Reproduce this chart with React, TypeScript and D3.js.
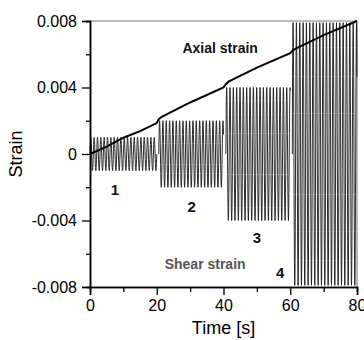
import React, { useEffect, useRef } from 'react';
import * as d3 from 'd3';

// loading stages of the shear strain (1 Hz cycling)
const stageNames = ['1', '2', '3', '4'];
const stageStart = [0, 20.6, 40.7, 60.6];
const stageEnd = [20, 40, 60, 80];
const stageAmp = [0.001, 0.002, 0.004, 0.0079];
const cycleHz = 1;

// axial strain
const axialTime = [0, 5, 10, 15, 20, 20.6, 21.5, 30, 40, 40.7, 41.5, 50, 60, 60.6, 61.5, 70, 80];
const axialStrain = [0, 0.00044, 0.00098, 0.00138, 0.00186, 0.0021, 0.00224, 0.0031, 0.0040, 0.0042, 0.00435, 0.0052, 0.00606, 0.0062, 0.00632, 0.00715, 0.008];

const yTicks = [-0.008, -0.004, 0, 0.004, 0.008];
const yMinor = [-0.006, -0.002, 0.002, 0.006];
const xTicks = [0, 20, 40, 60, 80];
const xMinor = [10, 30, 50, 70];

// label anchors in data units
const numLabelX = [7.5, 30.5, 50, 57];
const numLabelY = [-0.00245, -0.00350, -0.00535, -0.00745];

const font = 'Liberation Sans, Arial, sans-serif';

const App = () => {
  const svgRef = useRef<SVGSVGElement>(null);
  const width = 364;
  const height = 340;

  useEffect(() => {
    const margin = { top: 21, right: 7, bottom: 53, left: 90 };
    const innerWidth = width - margin.left - margin.right;
    const innerHeight = height - margin.top - margin.bottom;

    d3.select(svgRef.current).selectAll('*').remove();

    const x = d3.scaleLinear().domain([0, 80]).range([0, innerWidth]);
    const y = d3.scaleLinear().domain([-0.008, 0.008]).range([innerHeight, 0]);

    const svg = d3.select(svgRef.current)
      .attr('width', width)
      .attr('height', height)
      .append('g')
      .attr('transform', `translate(${margin.left},${margin.top})`);

    // frame (top/right)
    svg.append('path')
      .attr('d', `M0,0H${innerWidth}V${innerHeight}`)
      .attr('fill', 'none')
      .attr('stroke', '#777')
      .attr('stroke-width', 1);

    // shear strain waves
    const wave: [number, number][][] = stageAmp.map((amp, i) => {
      const pts: [number, number][] = [];
      for (let t = stageStart[i]; t <= stageEnd[i] + 1e-9; t += 0.05) {
        pts.push([t, amp * Math.sin(2 * Math.PI * cycleHz * (t - stageStart[i]))]);
      }
      return pts;
    });
    const line = d3.line<[number, number]>().x(d => x(d[0])).y(d => y(d[1]));
    svg.selectAll('.wave')
      .data(wave)
      .enter()
      .append('path')
      .attr('class', 'wave')
      .attr('d', d => line(d))
      .attr('fill', 'none')
      .attr('stroke', '#222')
      .attr('stroke-width', 0.95);

    // axial strain
    svg.append('path')
      .attr('d', line(axialTime.map((t, i) => [t, axialStrain[i]] as [number, number])))
      .attr('fill', 'none')
      .attr('stroke', '#000')
      .attr('stroke-width', 2);

    // axes
    const xAxis = svg.append('g').attr('transform', `translate(0,${innerHeight})`);
    xAxis.call(d3.axisBottom(x).tickValues(xMinor).tickSize(5).tickFormat(() => ''));
    xAxis.append('g')
      .call(d3.axisBottom(x).tickValues(xTicks).tickSize(8).tickPadding(5).tickFormat(d3.format('d')));
    const yAxis = svg.append('g');
    yAxis.call(d3.axisLeft(y).tickValues(yMinor).tickSize(4).tickFormat(() => ''));
    yAxis.append('g').call(d3.axisLeft(y).tickValues(yTicks).tickSize(8).tickPadding(5)
      .tickFormat(d => (d === 0 ? '0' : (d as number).toFixed(3))));

    svg.selectAll('.domain').attr('stroke', '#000').attr('stroke-width', 1.5);
    svg.selectAll('.tick line').attr('stroke', '#000').attr('stroke-width', 1.3);
    svg.selectAll('.tick text')
      .attr('font-family', font)
      .attr('font-size', 16)
      .attr('fill', '#000');

    // titles
    svg.append('text')
      .attr('x', innerWidth / 2)
      .attr('y', innerHeight + 47)
      .attr('text-anchor', 'middle')
      .attr('font-family', font)
      .attr('font-size', 18)
      .text('Time [s]');

    svg.append('text')
      .attr('transform', `translate(${-margin.left + 22},${innerHeight / 2}) rotate(-90)`)
      .attr('text-anchor', 'middle')
      .attr('font-family', font)
      .attr('font-size', 18)
      .text('Strain');

    // annotations
    svg.append('text')
      .attr('x', x(39))
      .attr('y', y(0.0061))
      .attr('text-anchor', 'middle')
      .attr('font-family', font)
      .attr('font-weight', 'bold')
      .attr('font-size', 14)
      .attr('fill', '#111')
      .text('Axial strain');

    svg.append('text')
      .attr('x', x(34.5))
      .attr('y', y(-0.0069))
      .attr('text-anchor', 'middle')
      .attr('font-family', font)
      .attr('font-weight', 'bold')
      .attr('font-size', 14)
      .attr('fill', '#555')
      .text('Shear strain');

    svg.selectAll('.num')
      .data(stageNames)
      .enter()
      .append('text')
      .attr('class', 'num')
      .attr('x', (_, i) => x(numLabelX[i]))
      .attr('y', (_, i) => y(numLabelY[i]))
      .attr('text-anchor', 'middle')
      .attr('font-family', font)
      .attr('font-weight', 'bold')
      .attr('font-size', 15)
      .attr('fill', '#111')
      .text(d => d);
  }, []);

  return (
    <svg ref={svgRef} style={{ position: 'absolute', left: 0, top: 0, background: '#fff' }}></svg>
  );
};

export default App;
